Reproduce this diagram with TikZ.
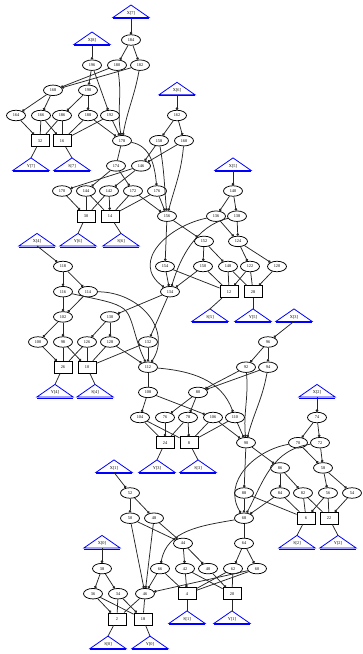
\documentclass[tikz,border=0pt]{standalone}
\usepackage{fontspec}
\setmainfont{Liberation Serif}
\usetikzlibrary{arrows.meta,shapes.geometric}
\newcommand{\mytri}[4]{%
  \node (#1) at (#2,#3) {#4};
  \coordinate (#1-t) at (#2,#3-8);
  \coordinate (#1-b) at (#2,#3+4.5);
  \draw[trish] (#1-t) -- ++(18,12.5) -- ++(-36,0) -- cycle;
  \draw[trish,line width=0.5pt] (#2-18,#3+5.4) -- (#2+18,#3+5.4);
}
\begin{document}
\begin{tikzpicture}[x=1pt,y=-1pt,
  every node/.style={font=\fontsize{4.3}{5}\selectfont, inner sep=0pt},
  ell/.style={ellipse, draw, line width=0.75pt, minimum width=19pt, minimum height=10.5pt},
  box/.style={rectangle, draw, line width=0.75pt, minimum width=18pt, minimum height=12pt},
  trish/.style={draw=blue, line width=0.8pt, line join=miter},
  d/.style={line width=0.75pt, draw=black!85, -{Circle[length=2.6pt]}},
  p/.style={line width=0.75pt, draw=black!85},
]
\useasboundingbox (0,0) rectangle (362,654);
% ---------- triangles ----------
\mytri{tX7}{131}{13}{X[7]}
\mytri{tX8}{92}{40}{X[8]}
\mytri{tX6}{177}{90.3}{X[6]}
\mytri{tY7}{31}{165.9}{Y[7]}
\mytri{tS7}{72}{165.9}{S[7]}
\mytri{tX5}{233}{165.9}{X[5]}
\mytri{tY6}{78}{241.4}{Y[6]}
\mytri{tS6}{121}{241.4}{S[6]}
\mytri{tX4}{37}{241.4}{X[4]}
\mytri{tS5}{210}{316.9}{S[5]}
\mytri{tY5}{253}{316.9}{Y[5]}
\mytri{tX3}{294}{316.9}{X[3]}
\mytri{tY4}{55}{392.4}{Y[4]}
\mytri{tS4}{95}{392.4}{S[4]}
\mytri{tX2}{317}{392.4}{X[2]}
\mytri{tX1}{114}{467.9}{X[1]}
\mytri{tY3}{157}{467.9}{Y[3]}
\mytri{tS3}{198}{467.9}{S[3]}
\mytri{tX0}{102}{543.4}{X[0]}
\mytri{tS2}{297}{543.4}{S[2]}
\mytri{tY2}{338}{543.4}{Y[2]}
\mytri{tS1}{187}{618.9}{S[1]}
\mytri{tY1}{232}{618.9}{Y[1]}
\mytri{tS0}{108}{644.1}{S[0]}
\mytri{tY0}{150}{644.1}{Y[0]}
% ---------- nodes ----------
\node[ell] (n184) at (131,40) {184};
\node[ell] (n196) at (92,65.2) {196};
\node[ell] (n180) at (117,65.2) {180};
\node[ell] (n182) at (140,65.2) {182};
\node[ell] (n168) at (53,90.3) {168};
\node[ell] (n190) at (88,90.3) {190};
\node[ell] (n164) at (16,115.5) {164};
\node[ell] (n166) at (41,115.5) {166};
\node[ell] (n186) at (62,115.5) {186};
\node[ell] (n188) at (88,115.5) {188};
\node[ell] (n192) at (110,115.5) {192};
\node[ell] (n162) at (177,115.5) {162};
\node[box] (b32) at (40,140.7) {32};
\node[box] (b16) at (62,140.7) {16};
\node[ell] (n178) at (122,140.7) {178};
\node[ell] (n158) at (159,140.7) {158};
\node[ell] (n160) at (184,140.7) {160};
\node[ell] (n174) at (116,165.9) {174};
\node[ell] (n146) at (141,165.9) {146};
\node[ell] (n170) at (62,191) {170};
\node[ell] (n144) at (86,191) {144};
\node[ell] (n142) at (109,191) {142};
\node[ell] (n172) at (133,191) {172};
\node[ell] (n176) at (157,191) {176};
\node[ell] (n140) at (233,191) {140};
\node[box] (b30) at (86,216.2) {30};
\node[box] (b14) at (110,216.2) {14};
\node[ell] (n156) at (167,216.2) {156};
\node[ell] (n136) at (216,216.2) {136};
\node[ell] (n138) at (237,216.2) {138};
\node[ell] (n152) at (204,241.4) {152};
\node[ell] (n124) at (238,241.4) {124};
\node[ell] (n118) at (63,266.5) {118};
\node[ell] (n154) at (165,266.5) {154};
\node[ell] (n150) at (203,266.5) {150};
\node[ell] (n148) at (228,266.5) {148};
\node[ell] (n122) at (250,266.5) {122};
\node[ell] (n120) at (277,266.5) {120};
\node[ell] (n116) at (63,291.7) {116};
\node[ell] (n114) at (88,291.7) {114};
\node[ell] (n134) at (170,291.7) {134};
\node[box] (b12) at (229,291.7) {12};
\node[box] (b28) at (253,291.7) {28};
\node[ell] (n102) at (63,316.9) {102};
\node[ell] (n130) at (110,316.9) {130};
\node[ell] (n100) at (38,342) {100};
\node[ell] (n98) at (63,342) {98};
\node[ell] (n126) at (87,342) {126};
\node[ell] (n128) at (110,342) {128};
\node[ell] (n132) at (148,342) {132};
\node[ell] (n96) at (268,342) {96};
\node[box] (b26) at (63,367.2) {26};
\node[box] (b10) at (87,367.2) {10};
\node[ell] (n112) at (148,367.2) {112};
\node[ell] (n92) at (246,367.2) {92};
\node[ell] (n94) at (268,367.2) {94};
\node[ell] (n108) at (148,392.4) {108};
\node[ell] (n80) at (198,392.4) {80};
\node[ell] (n104) at (140,417.5) {104};
\node[ell] (n76) at (165,417.5) {76};
\node[ell] (n78) at (188,417.5) {78};
\node[ell] (n106) at (213,417.5) {106};
\node[ell] (n110) at (235,417.5) {110};
\node[ell] (n74) at (317,417.5) {74};
\node[box] (b24) at (165,442.7) {24};
\node[box] (b8) at (189,442.7) {8};
\node[ell] (n90) at (246,442.7) {90};
\node[ell] (n70) at (298,442.7) {70};
\node[ell] (n72) at (320,442.7) {72};
\node[ell] (n86) at (280,467.9) {86};
\node[ell] (n58) at (323,467.9) {58};
\node[ell] (n52) at (130,493) {52};
\node[ell] (n88) at (244,493) {88};
\node[ell] (n84) at (280,493) {84};
\node[ell] (n82) at (303,493) {82};
\node[ell] (n56) at (328,493) {56};
\node[ell] (n54) at (352,493) {54};
\node[ell] (n50) at (130,518.2) {50};
\node[ell] (n48) at (154,518.2) {48};
\node[ell] (n68) at (244,518.2) {68};
\node[box] (b6) at (306,518.2) {6};
\node[box] (b22) at (329,518.2) {22};
\node[ell] (n44) at (183,543.4) {44};
\node[ell] (n64) at (244,543.4) {64};
\node[ell] (n38) at (102,568.6) {38};
\node[ell] (n66) at (160,568.6) {66};
\node[ell] (n42) at (185,568.6) {42};
\node[ell] (n40) at (208,568.6) {40};
\node[ell] (n62) at (233,568.6) {62};
\node[ell] (n60) at (257,568.6) {60};
\node[ell] (n36) at (93,593.7) {36};
\node[ell] (n34) at (118,593.7) {34};
\node[ell] (n46) at (145,593.7) {46};
\node[box] (b4) at (187,593.7) {4};
\node[box] (b20) at (232,593.7) {20};
\node[box] (b2) at (117,618.9) {2};
\node[box] (b18) at (143,618.9) {18};
% ---------- bit 7 ----------
\draw[d] (tX7-b) -- (n184);
\draw[d] (tX8-b) -- (n196);
\draw[d] (n184) -- (n180);
\draw[d] (n184) -- (n182);
\draw[d] (n180) -- (n168);
\draw[d] (n182) -- (n168);
\draw[d] (n196) -- (n190);
\draw[d] (n196) -- (n192);
\draw[d] (n168) -- (n164);
\draw[d] (n168) -- (n166);
\draw[d] (n190) -- (n186);
\draw[d] (n190) -- (n188);
\draw[d] (n180) to[out=-80,in=100] (n178);
\draw[d] (n182) to[out=-100,in=80] (n178);
\draw[d] (n192) -- (n178);
\draw[d] (n188) -- (n178);
\draw[p] (n192) -- (b16);
\draw[p] (n188) -- (b16);
\draw[p] (n186) -- (b16);
\draw[d] (n166) -- (b16);
\draw[p] (n186) -- (b32);
\draw[p] (n166) -- (b32);
\draw[d] (n164) -- (b32);
\draw[p] (b32) -- (tY7-t);
\draw[p] (b16) -- (tS7-t);
% ---------- bit 6 ----------
\draw[d] (tX6-b) -- (n162);
\draw[d] (n162) -- (n158);
\draw[d] (n162) -- (n160);
\draw[d] (n158) -- (n146);
\draw[d] (n160) -- (n146);
\draw[p] (n178) -- (n174);
\draw[d] (n178) to[out=-10,in=95] (n176);
\draw[d] (n174) -- (n144);
\draw[d] (n174) -- (n172);
\draw[d] (n146) -- (n170);
\draw[d] (n146) -- (n142);
\draw[d] (n158) to[out=-80,in=95] (n156);
\draw[d] (n160) to[out=-95,in=75] (n156);
\draw[d] (n176) -- (n156);
\draw[d] (n172) -- (n156);
\draw[p] (n176) -- (b14);
\draw[p] (n172) -- (b14);
\draw[p] (n144) -- (b14);
\draw[d] (n142) -- (b14);
\draw[p] (n144) -- (b30);
\draw[p] (n142) -- (b30);
\draw[d] (n170) -- (b30);
\draw[p] (b30) -- (tY6-t);
\draw[p] (b14) -- (tS6-t);
% ---------- bit 5 ----------
\draw[d] (tX5-b) -- (n140);
\draw[d] (n140) -- (n136);
\draw[d] (n140) -- (n138);
\draw[d] (n136) -- (n124);
\draw[d] (n138) -- (n124);
\draw[d] (n156) -- (n154);
\draw[d] (n156) -- (n152);
\draw[d] (n152) -- (n150);
\draw[d] (n152) -- (n148);
\draw[d] (n124) -- (n122);
\draw[d] (n124) -- (n120);
\draw[d] (n136) .. controls (168,226) and (130,262) .. (n134);
\draw[d] (n138) .. controls (196,226) and (180,258) .. (n134);
\draw[d] (n154) -- (n134);
\draw[d] (n150) -- (n134);
\draw[p] (n154) -- (b12);
\draw[p] (n150) -- (b12);
\draw[p] (n148) -- (b12);
\draw[d] (n122) -- (b12);
\draw[p] (n148) -- (b28);
\draw[p] (n122) -- (b28);
\draw[d] (n120) -- (b28);
\draw[p] (b12) -- (tS5-t);
\draw[p] (b28) -- (tY5-t);
% ---------- bit 4 ----------
\draw[d] (tX4-b) -- (n118);
\draw[d] (n118) -- (n116);
\draw[d] (n118) -- (n114);
\draw[d] (n116) -- (n102);
\draw[d] (n114) -- (n102);
\draw[d] (n134) -- (n130);
\draw[d] (n134) -- (n132);
\draw[d] (n102) -- (n100);
\draw[d] (n102) -- (n98);
\draw[d] (n130) -- (n126);
\draw[d] (n130) -- (n128);
\draw[d] (n116) .. controls (100,300) and (115,302) .. (124,309) .. controls (133,316) and (134,338) .. (n112);
\draw[d] (n114) .. controls (140,292) and (172,330) .. (n112);
\draw[d] (n132) -- (n112);
\draw[d] (n128) -- (n112);
\draw[p] (n132) -- (b10);
\draw[p] (n128) -- (b10);
\draw[p] (n126) -- (b10);
\draw[d] (n98) -- (b10);
\draw[p] (n126) -- (b26);
\draw[p] (n98) -- (b26);
\draw[d] (n100) -- (b26);
\draw[p] (b26) -- (tY4-t);
\draw[p] (b10) -- (tS4-t);
% ---------- bit 3 ----------
\draw[d] (tX3-b) -- (n96);
\draw[d] (n96) -- (n92);
\draw[d] (n96) -- (n94);
\draw[d] (n92) -- (n80);
\draw[d] (n94) -- (n80);
\draw[p] (n112) -- (n108);
\draw[d] (n112) to[out=-5,in=110] (n110);
\draw[d] (n108) -- (n104);
\draw[d] (n108) -- (n106);
\draw[d] (n80) -- (n76);
\draw[d] (n80) -- (n78);
\draw[d] (n92) to[out=-85,in=95] (n90);
\draw[d] (n94) to[out=-100,in=75] (n90);
\draw[d] (n110) -- (n90);
\draw[d] (n106) -- (n90);
\draw[p] (n110) -- (b8);
\draw[p] (n106) -- (b8);
\draw[p] (n104) -- (b8);
\draw[d] (n78) -- (b8);
\draw[p] (n104) -- (b24);
\draw[p] (n78) -- (b24);
\draw[d] (n76) -- (b24);
\draw[p] (b24) -- (tY3-t);
\draw[p] (b8) -- (tS3-t);
% ---------- bit 2 ----------
\draw[d] (tX2-b) -- (n74);
\draw[d] (n74) -- (n70);
\draw[d] (n74) -- (n72);
\draw[d] (n70) -- (n58);
\draw[d] (n72) -- (n58);
\draw[d] (n90) -- (n88);
\draw[d] (n90) -- (n86);
\draw[d] (n86) -- (n84);
\draw[d] (n86) -- (n82);
\draw[d] (n58) -- (n56);
\draw[d] (n58) -- (n54);
\draw[d] (n70) .. controls (255,450) and (222,482) .. (n68);
\draw[d] (n72) .. controls (272,450) and (264,480) .. (n68);
\draw[d] (n88) -- (n68);
\draw[d] (n84) -- (n68);
\draw[p] (n88) -- (b6);
\draw[p] (n84) -- (b6);
\draw[p] (n82) -- (b6);
\draw[d] (n56) -- (b6);
\draw[p] (n82) -- (b22);
\draw[p] (n56) -- (b22);
\draw[d] (n54) -- (b22);
\draw[p] (b6) -- (tS2-t);
\draw[p] (b22) -- (tY2-t);
% ---------- bit 1 ----------
\draw[d] (tX1-b) -- (n52);
\draw[d] (n52) -- (n50);
\draw[d] (n52) -- (n48);
\draw[d] (n50) -- (n44);
\draw[d] (n48) -- (n44);
\draw[p] (n68) -- (n64);
\draw[d] (n68) to[out=190,in=80] (n66);
\draw[d] (n44) -- (n42);
\draw[d] (n44) -- (n40);
\draw[d] (n64) -- (n62);
\draw[d] (n64) -- (n60);
\draw[d] (n50) -- (n46);
\draw[d] (n48) -- (n46);
\draw[d] (n66) -- (n46);
\draw[d] (n60) -- (n46);
\draw[p] (n66) -- (b4);
\draw[p] (n60) -- (b4);
\draw[p] (n62) -- (b4);
\draw[d] (n42) -- (b4);
\draw[p] (n62) -- (b20);
\draw[p] (n42) -- (b20);
\draw[d] (n40) -- (b20);
\draw[p] (b4) -- (tS1-t);
\draw[p] (b20) -- (tY1-t);
% ---------- bit 0 ----------
\draw[d] (tX0-b) -- (n38);
\draw[d] (n38) -- (n36);
\draw[d] (n38) -- (n34);
\draw[p] (n46) -- (b2);
\draw[p] (n34) -- (b2);
\draw[d] (n36) -- (b2);
\draw[p] (n46) -- (b18);
\draw[p] (n36) -- (b18);
\draw[d] (n34) -- (b18);
\draw[p] (b2) -- (tS0-t);
\draw[p] (b18) -- (tY0-t);
\end{tikzpicture}
\end{document}
